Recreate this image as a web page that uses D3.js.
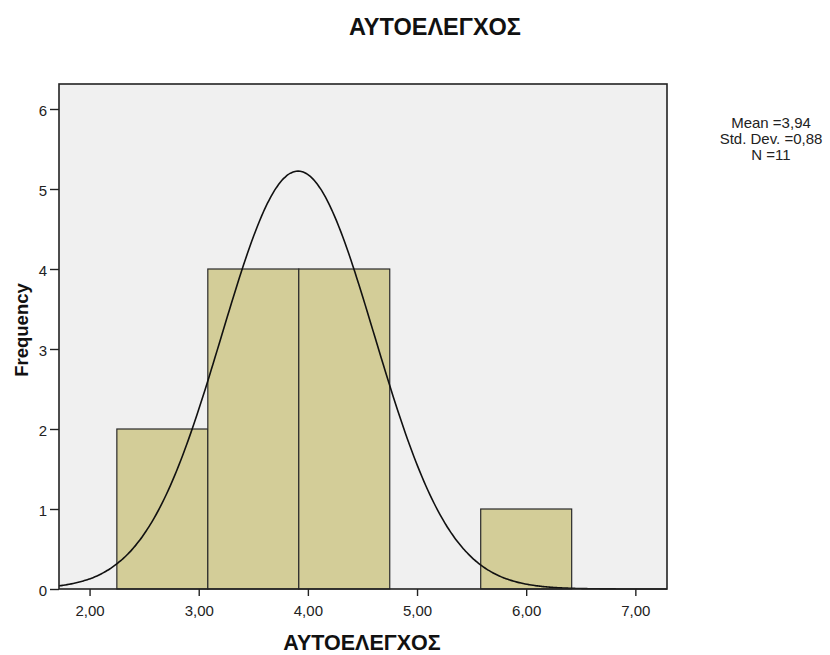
<!DOCTYPE html>
<html><head><meta charset="utf-8">
<script src="https://cdn.jsdelivr.net/npm/d3@7"></script>
<style>
body{margin:0;background:#fff;}
text{font-family:"Liberation Sans",Arial,sans-serif;}
</style></head>
<body><svg id="c" width="830" height="655"></svg>
<script>
const chartTitle = "ΑΥΤΟΕΛΕΓΧΟΣ";
const xTitle = "ΑΥΤΟΕΛΕΓΧΟΣ";
const yTitle = "Frequency";
const binEdges = [2.25, 3.0833, 3.9167, 4.75, 5.5833, 6.4167];
const counts = [2, 4, 4, 0, 1];
const xTicks = [2, 3, 4, 5, 6, 7];
const yTicks = [0, 1, 2, 3, 4, 5, 6];
const statsLines = ["Mean =3,94", "Std. Dev. =0,88", "N =11"];
const curveMean = 3.91;   // curve as drawn in the picture
const curveSd = 0.70;
const nTotal = 11;

const svg = d3.select("#c");
const L = 59, R = 667, T = 84, B = 589;
const x = d3.scaleLinear().domain([1.72, 7.29]).range([L, R]);
const y = d3.scaleLinear().domain([0, 6.3125]).range([B, T]);

svg.append("rect").attr("x", L).attr("y", T).attr("width", R - L).attr("height", B - T)
  .attr("fill", "#f0f0f0");

const bins = counts.map((c, i) => ({x0: binEdges[i], x1: binEdges[i + 1], c}));
svg.selectAll("rect.bar").data(bins.filter(d => d.c > 0)).enter().append("rect")
  .attr("class", "bar")
  .attr("x", d => x(d.x0)).attr("width", d => x(d.x1) - x(d.x0))
  .attr("y", d => y(d.c)).attr("height", d => y(0) - y(d.c))
  .attr("fill", "#d3cd98").attr("stroke", "#2a2a2a").attr("stroke-width", 1.2);

const bw = binEdges[1] - binEdges[0];
const dom = x.domain();
const pts = d3.range(0, 301).map(i => {
  const v = dom[0] + (dom[1] - dom[0]) * i / 300;
  const z = (v - curveMean) / curveSd;
  return [v, nTotal * bw * Math.exp(-z * z / 2) / (curveSd * Math.sqrt(2 * Math.PI))];
});
svg.append("path").datum(pts)
  .attr("d", d3.line().x(d => x(d[0])).y(d => y(d[1])).curve(d3.curveBasis))
  .attr("fill", "none").attr("stroke", "#111").attr("stroke-width", 1.6);

svg.append("rect").attr("x", L).attr("y", T).attr("width", R - L).attr("height", B - T)
  .attr("fill", "none").attr("stroke", "#222").attr("stroke-width", 1.6);

const fmt = v => d3.format(".2f")(v).replace(".", ",");
const xa = svg.append("g").attr("transform", `translate(0,${B})`)
  .call(d3.axisBottom(x).tickValues(xTicks).tickFormat(fmt).tickSize(7).tickSizeOuter(0));
xa.select(".domain").remove();
xa.selectAll("line").attr("stroke", "#222").attr("stroke-width", 1.4);
xa.selectAll("text").attr("font-size", 15).attr("fill", "#222").attr("y", 27).attr("dy", 0);

const ya = svg.append("g").attr("transform", `translate(${L},0)`)
  .call(d3.axisLeft(y).tickValues(yTicks).tickFormat(d3.format("d")).tickSize(9).tickSizeOuter(0));
ya.select(".domain").remove();
ya.selectAll("line").attr("stroke", "#222").attr("stroke-width", 1.4);
ya.selectAll("text").attr("font-size", 15).attr("fill", "#222").attr("x", -12).attr("dy", "0.4em");

svg.append("text").attr("x", 435).attr("y", 35).attr("text-anchor", "middle")
  .attr("font-size", 23.5).attr("font-weight", "bold").attr("fill", "#111").text(chartTitle);
svg.append("text").attr("x", 362).attr("y", 650).attr("text-anchor", "middle")
  .attr("font-size", 21.5).attr("font-weight", "bold").attr("fill", "#111").text(xTitle);
svg.append("text").attr("transform", "translate(28,330) rotate(-90)").attr("text-anchor", "middle")
  .attr("font-size", 18.5).attr("font-weight", "bold").attr("fill", "#111").text(yTitle);

svg.append("g").selectAll("text").data(statsLines).enter().append("text")
  .attr("x", 771).attr("y", (d, i) => 128 + i * 16).attr("text-anchor", "middle")
  .attr("font-size", 15).attr("fill", "#222").text(d => d);
</script></body></html>
